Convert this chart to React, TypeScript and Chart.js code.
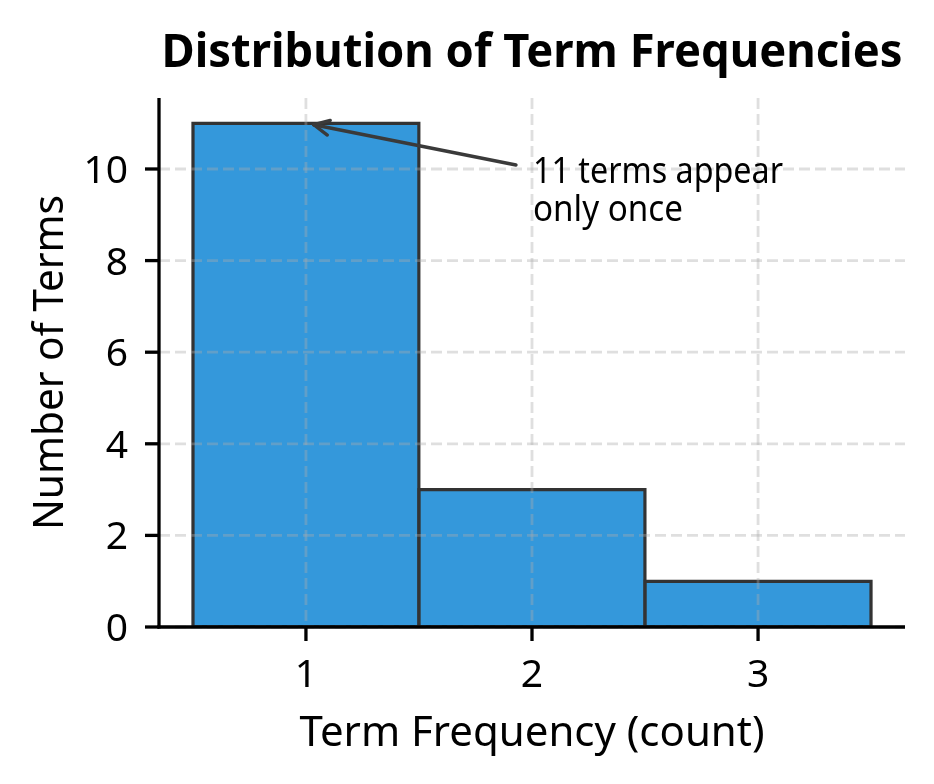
import React, { useEffect, useRef } from "react";
import { Chart, registerables } from "chart.js";

Chart.register(...registerables);

// histogram data
const termFrequencies = [1, 2, 3];
const termCounts = [11, 3, 1];
const xTicks = [1, 2, 3];
const yTicks = [0, 2, 4, 6, 8, 10];

const chartTitle = "Distribution of Term Frequencies";
const xLabel = "Term Frequency (count)";
const yLabel = "Number of Terms";
const noteLines = ["11 terms appear", "only once"];
const notePoint = [1, 11];
const noteAnchor = [2, 10];

const FONT = "'Noto Sans', sans-serif";

const App: React.FC = () => {
  const canvasRef = useRef<HTMLCanvasElement | null>(null);
  const chartRef = useRef<Chart | null>(null);

  useEffect(() => {
    document.body.style.margin = "0";
    if (!canvasRef.current) return;

    if (chartRef.current) {
      chartRef.current.destroy();
    }

    const ctx = canvasRef.current.getContext("2d");
    if (!ctx) return;

    // grid over bars, spines, ticks, labels and the annotation
    const overlay = {
      id: "overlay",
      afterDatasetsDraw(chart: any) {
        const { ctx: c, chartArea: a, scales } = chart;
        const xs = scales.x;
        const ys = scales.y;
        const line = (x1: number, y1: number, x2: number, y2: number) => {
          c.beginPath();
          c.moveTo(x1, y1);
          c.lineTo(x2, y2);
          c.stroke();
        };
        c.save();

        c.strokeStyle = "rgba(170, 170, 170, 0.38)";
        c.lineWidth = 2.8;
        c.setLineDash([11, 5]);
        xTicks.forEach((v) => {
          const px = xs.getPixelForValue(v);
          line(px, a.top, px, a.bottom);
        });
        yTicks.forEach((v) => {
          const py = ys.getPixelForValue(v);
          line(a.left, py, a.right, py);
        });
        c.setLineDash([]);

        // spines + tick marks
        c.strokeStyle = "#000";
        c.lineWidth = 3.3;
        line(a.left, a.top, a.left, a.bottom + 1.6);
        line(a.left - 1.6, a.bottom, a.right, a.bottom);
        xTicks.forEach((v) => {
          const px = xs.getPixelForValue(v);
          line(px, a.bottom, px, a.bottom + 14);
        });
        yTicks.forEach((v) => {
          const py = ys.getPixelForValue(v);
          line(a.left - 14, py, a.left, py);
        });

        // tick labels
        c.fillStyle = "#000";
        c.font = `39px ${FONT}`;
        c.textBaseline = "alphabetic";
        c.textAlign = "center";
        xTicks.forEach((v) => {
          c.fillText(String(v), xs.getPixelForValue(v), a.bottom + 60);
        });
        c.textAlign = "right";
        yTicks.forEach((v) => {
          c.fillText(String(v), a.left - 31, ys.getPixelForValue(v) + 14);
        });

        // title and axis titles
        c.textAlign = "center";
        c.font = `bold 47px ${FONT}`;
        c.fillText(chartTitle, (a.left + a.right) / 2, 67, 741);
        c.font = `42px ${FONT}`;
        c.fillText(xLabel, (a.left + a.right) / 2, 746, 465);
        c.save();
        c.translate(63, (a.top + a.bottom) / 2);
        c.rotate(-Math.PI / 2);
        c.fillText(yLabel, 0, 0, 335);
        c.restore();

        // annotation
        const ax = xs.getPixelForValue(noteAnchor[0]);
        const ay = ys.getPixelForValue(noteAnchor[1]);
        c.textAlign = "left";
        c.font = `36px ${FONT}`;
        c.fillText(noteLines[0], ax + 1, ay + 14, 250);
        c.fillText(noteLines[1], ax + 1, ay + 52, 150);

        const tx = xs.getPixelForValue(notePoint[0]);
        const ty = ys.getPixelForValue(notePoint[1]);
        const sx = ax - 16;
        const sy = ay - 4;
        const ang = Math.atan2(ty - sy, tx - sx);
        const hx = tx - Math.cos(ang) * 8;
        const hy = ty - Math.sin(ang) * 8;
        c.strokeStyle = "#3a3a3a";
        c.lineWidth = 3.4;
        c.lineCap = "round";
        line(sx, sy, hx, hy);
        const hl = 17;
        const hw = (26 * Math.PI) / 180;
        line(hx, hy, hx - Math.cos(ang - hw) * hl, hy - Math.sin(ang - hw) * hl);
        line(hx, hy, hx - Math.cos(ang + hw) * hl, hy - Math.sin(ang + hw) * hl);

        c.restore();
      },
    };

    chartRef.current = new Chart(ctx, {
      type: "bar",
      data: {
        datasets: [
          {
            data: termFrequencies.map((x, i) => ({ x, y: termCounts[i] })),
            backgroundColor: "#3498db",
            borderColor: "#333333",
            borderWidth: 3.4,
            borderSkipped: false,
            inflateAmount: 1.7,
            barPercentage: 1,
            categoryPercentage: 1,
          },
        ],
      },
      options: {
        animation: false,
        responsive: true,
        maintainAspectRatio: false,
        layout: {
          padding: { top: 98, right: 29, left: 0, bottom: 0 },
        },
        plugins: {
          legend: { display: false },
          tooltip: { enabled: false },
          title: { display: false },
        },
        scales: {
          x: {
            type: "linear",
            min: 0.35,
            max: 3.65,
            offset: false,
            grid: { display: false, drawTicks: false },
            border: { display: false },
            ticks: { display: false },
            afterBuildTicks: (s: any) => {
              s.ticks = xTicks.map((value) => ({ value }));
            },
            afterFit: (s: any) => {
              s.height = 157;
            },
          },
          y: {
            min: 0,
            max: 11.55,
            grid: { display: false, drawTicks: false },
            border: { display: false },
            ticks: { display: false },
            afterBuildTicks: (s: any) => {
              s.ticks = yTicks.map((value) => ({ value }));
            },
            afterFit: (s: any) => {
              s.width = 159;
            },
          },
        },
      },
      plugins: [overlay],
    });

    return () => {
      if (chartRef.current) {
        chartRef.current.destroy();
        chartRef.current = null;
      }
    };
  }, []);

  return (
    <div style={{ width: "934px", height: "784px", position: "relative", background: "#fff" }}>
      <canvas ref={canvasRef} />
    </div>
  );
};

export default App;
